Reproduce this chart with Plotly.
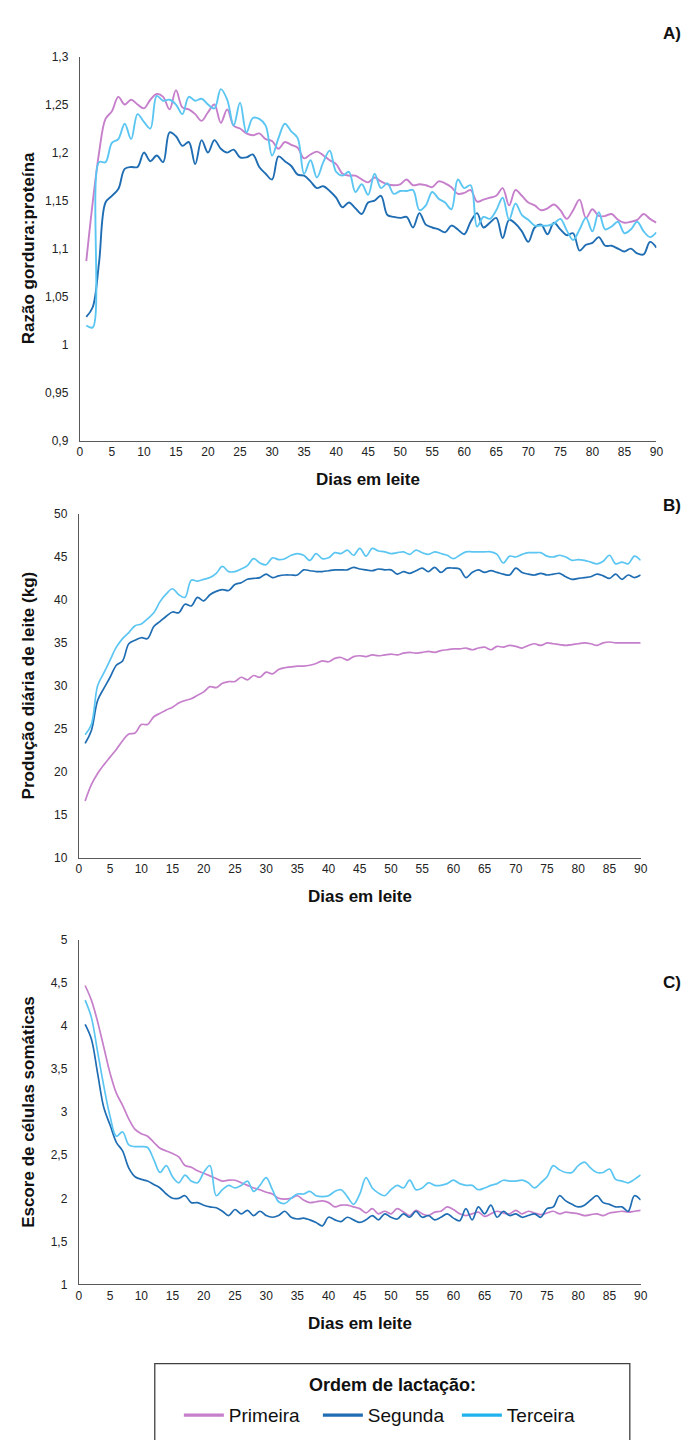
import plotly.graph_objects as go

# Days in milk
dias = list(range(1, 91))

# A) fat:protein ratio
razao_primeira = [1.087, 1.148, 1.200, 1.235, 1.243, 1.258, 1.250, 1.255, 1.250, 1.246,
                  1.255, 1.261, 1.258, 1.245, 1.265, 1.247, 1.245, 1.240, 1.233, 1.242,
                  1.250, 1.231, 1.245, 1.228, 1.225, 1.220, 1.218, 1.220, 1.214, 1.212,
                  1.204, 1.211, 1.208, 1.205, 1.194, 1.198, 1.201, 1.197, 1.192, 1.188,
                  1.178, 1.176, 1.176, 1.172, 1.169, 1.174, 1.170, 1.167, 1.166, 1.167,
                  1.172, 1.166, 1.167, 1.166, 1.164, 1.170, 1.168, 1.164, 1.157, 1.158,
                  1.161, 1.149, 1.151, 1.153, 1.155, 1.163, 1.145, 1.161, 1.155, 1.148,
                  1.145, 1.140, 1.142, 1.146, 1.140, 1.131, 1.140, 1.151, 1.132, 1.141,
                  1.134, 1.134, 1.136, 1.130, 1.127, 1.128, 1.130, 1.136, 1.131, 1.127]
razao_segunda = [1.029, 1.039, 1.086, 1.148, 1.155, 1.162, 1.183, 1.185, 1.185, 1.200,
                 1.191, 1.197, 1.190, 1.221, 1.217, 1.207, 1.211, 1.188, 1.213, 1.200,
                 1.213, 1.204, 1.200, 1.203, 1.195, 1.195, 1.198, 1.185, 1.178, 1.172,
                 1.196, 1.191, 1.186, 1.177, 1.176, 1.170, 1.163, 1.165, 1.160, 1.153,
                 1.143, 1.148, 1.142, 1.136, 1.148, 1.150, 1.155, 1.135, 1.133, 1.132,
                 1.133, 1.122, 1.137, 1.125, 1.122, 1.120, 1.117, 1.124, 1.120, 1.115,
                 1.128, 1.137, 1.122, 1.127, 1.132, 1.111, 1.130, 1.126, 1.118, 1.107,
                 1.122, 1.125, 1.115, 1.127, 1.120, 1.114, 1.116, 1.098, 1.104, 1.106,
                 1.112, 1.103, 1.103, 1.100, 1.097, 1.100, 1.095, 1.094, 1.107, 1.101]
razao_terceira = [1.020, 1.018, 1.190, 1.190, 1.210, 1.214, 1.230, 1.214, 1.240, 1.232,
                  1.225, 1.259, 1.254, 1.255, 1.250, 1.240, 1.258, 1.254, 1.256, 1.250,
                  1.246, 1.266, 1.255, 1.228, 1.252, 1.221, 1.236, 1.235, 1.228, 1.197,
                  1.215, 1.230, 1.222, 1.215, 1.178, 1.192, 1.174, 1.190, 1.202, 1.180,
                  1.176, 1.180, 1.159, 1.167, 1.156, 1.178, 1.163, 1.168, 1.157, 1.160,
                  1.160, 1.161, 1.140, 1.145, 1.159, 1.152, 1.148, 1.141, 1.172, 1.163,
                  1.166, 1.123, 1.133, 1.131, 1.140, 1.153, 1.130, 1.147, 1.135, 1.130,
                  1.124, 1.124, 1.124, 1.126, 1.131, 1.119, 1.109, 1.120, 1.132, 1.118,
                  1.138, 1.120, 1.123, 1.128, 1.116, 1.120, 1.128, 1.118, 1.112, 1.117]

# B) daily milk yield (kg)
leite_primeira = [16.6, 18.5, 19.8, 20.8, 21.7, 22.6, 23.6, 24.4, 24.5, 25.5,
                  25.5, 26.4, 26.8, 27.2, 27.5, 28.0, 28.3, 28.5, 28.9, 29.3,
                  29.9, 29.8, 30.3, 30.5, 30.5, 31.0, 30.7, 31.2, 31.0, 31.6,
                  31.4, 31.9, 32.1, 32.2, 32.3, 32.3, 32.4, 32.6, 32.9, 32.8,
                  33.2, 33.3, 33.0, 33.4, 33.5, 33.4, 33.6, 33.5, 33.6, 33.7,
                  33.6, 33.8, 33.9, 33.8, 33.9, 34.0, 33.9, 34.1, 34.2, 34.3,
                  34.3, 34.4, 34.2, 34.4, 34.5, 34.2, 34.6, 34.5, 34.7, 34.6,
                  34.4, 34.7, 34.9, 34.7, 35.0, 34.9, 34.8, 34.7, 34.8, 34.9,
                  35.0, 34.9, 34.7, 35.0, 35.1, 35.0, 35.0, 35.0, 35.0, 35.0]
leite_segunda = [23.3, 24.8, 28.3, 29.7, 31.0, 32.4, 32.9, 34.9, 35.3, 35.6,
                 35.5, 36.9, 37.5, 38.1, 38.6, 38.5, 39.5, 39.3, 40.3, 39.9,
                 40.6, 41.0, 41.2, 41.1, 41.8, 42.0, 42.4, 42.5, 42.6, 43.0,
                 42.6, 42.8, 42.9, 42.9, 42.9, 43.5, 43.4, 43.3, 43.3, 43.4,
                 43.5, 43.5, 43.5, 43.8, 43.6, 43.5, 43.4, 43.6, 43.5, 43.5,
                 43.0, 43.3, 43.1, 43.4, 43.7, 43.3, 43.8, 43.2, 43.7, 43.7,
                 43.6, 42.6, 43.2, 43.5, 43.2, 43.4, 43.2, 43.0, 42.9, 43.7,
                 43.2, 43.0, 42.9, 43.1, 42.9, 43.0, 43.1, 42.7, 42.4, 42.5,
                 42.6, 42.7, 43.0, 42.8, 42.5, 43.0, 42.4, 42.9, 42.6, 42.9]
leite_terceira = [24.3, 25.5, 30.0, 31.5, 33.0, 34.5, 35.5, 36.2, 37.0, 37.2,
                  37.8, 38.5, 39.8, 40.7, 41.3, 40.6, 40.3, 42.3, 42.2, 42.4,
                  42.6, 43.1, 43.9, 43.3, 43.3, 43.6, 44.0, 44.8, 44.3, 44.1,
                  44.9, 44.7, 44.8, 45.2, 45.4, 45.2, 44.6, 45.4, 44.8, 44.9,
                  45.5, 45.4, 45.8, 45.2, 46.0, 45.1, 46.0, 45.7, 45.6, 45.4,
                  45.5, 45.6, 45.3, 45.8, 45.5, 45.3, 45.6, 45.4, 45.2, 44.8,
                  45.2, 45.6, 45.6, 45.6, 45.6, 45.6, 45.3, 44.3, 45.1, 45.0,
                  45.3, 45.5, 45.5, 45.5, 45.1, 45.0, 45.2, 45.0, 44.6, 44.7,
                  44.6, 44.4, 44.2, 44.5, 45.2, 44.2, 44.4, 44.2, 45.1, 44.6]

# C) somatic cell score
ecs_primeira = [4.47, 4.30, 4.05, 3.75, 3.45, 3.22, 3.08, 2.92, 2.80, 2.75,
                2.72, 2.65, 2.58, 2.55, 2.52, 2.48, 2.38, 2.36, 2.32, 2.29,
                2.26, 2.23, 2.20, 2.21, 2.21, 2.18, 2.15, 2.12, 2.10, 2.07,
                2.05, 2.00, 1.99, 2.00, 2.03, 1.98, 1.95, 1.96, 1.97, 1.95,
                1.90, 1.92, 1.92, 1.90, 1.88, 1.83, 1.88, 1.82, 1.85, 1.82,
                1.88, 1.84, 1.80, 1.86, 1.82, 1.80, 1.84, 1.85, 1.90, 1.87,
                1.82, 1.80, 1.82, 1.84, 1.79, 1.82, 1.85, 1.83, 1.82, 1.86,
                1.82, 1.85, 1.83, 1.81, 1.83, 1.85, 1.82, 1.84, 1.83, 1.82,
                1.80, 1.81, 1.82, 1.80, 1.83, 1.84, 1.85, 1.84, 1.85, 1.86]
ecs_segunda = [4.02, 3.85, 3.45, 3.05, 2.85, 2.65, 2.55, 2.35, 2.25, 2.22,
               2.20, 2.16, 2.12, 2.05, 2.00, 2.00, 2.03, 1.95, 1.95, 1.92,
               1.90, 1.89, 1.85, 1.80, 1.87, 1.82, 1.86, 1.80, 1.85, 1.80,
               1.78, 1.80, 1.85, 1.78, 1.76, 1.77, 1.75, 1.72, 1.68, 1.78,
               1.75, 1.73, 1.78, 1.75, 1.72, 1.75, 1.80, 1.75, 1.82, 1.78,
               1.76, 1.82, 1.78, 1.85, 1.78, 1.80, 1.75, 1.78, 1.82, 1.77,
               1.74, 1.88, 1.75, 1.90, 1.82, 1.92, 1.78, 1.85, 1.80, 1.82,
               1.78, 1.80, 1.82, 1.78, 1.88, 1.90, 2.03, 1.97, 1.93, 1.90,
               1.92, 1.98, 2.03, 1.95, 1.93, 1.90, 1.90, 1.85, 2.03, 1.98]
ecs_terceira = [4.30, 4.10, 3.70, 3.30, 2.95, 2.72, 2.77, 2.62, 2.60, 2.60,
                2.59, 2.45, 2.30, 2.38, 2.25, 2.18, 2.27, 2.20, 2.18, 2.30,
                2.38, 2.03, 2.10, 2.15, 2.12, 2.15, 2.20, 2.08, 2.15, 2.24,
                2.10, 1.96, 1.94, 2.00, 2.05, 2.05, 2.08, 2.03, 2.02, 2.03,
                2.08, 2.10, 2.02, 1.93, 2.05, 2.24, 2.12, 2.06, 2.03, 2.10,
                2.15, 2.12, 2.21, 2.10, 2.12, 2.18, 2.15, 2.15, 2.17, 2.21,
                2.17, 2.15, 2.15, 2.10, 2.12, 2.15, 2.17, 2.21, 2.20, 2.20,
                2.21, 2.18, 2.12, 2.18, 2.25, 2.38, 2.33, 2.30, 2.30, 2.38,
                2.42, 2.35, 2.30, 2.30, 2.34, 2.22, 2.20, 2.18, 2.22, 2.27]

ordens = ["Primeira", "Segunda", "Terceira"]
cores = ["#C67FCB", "#1F6DB3", "#5CC6F2"]
cores_legenda = ["#C67FCB", "#1F6DB3", "#1FB2EE"]

W, H = 693, 1440
FONT = "Liberation Sans, Arial, sans-serif"


def px_x(p):
    return p / W


def px_y(p):
    return 1 - p / H


fig = go.Figure()

paineis = [
    (["x", "y"], [razao_primeira, razao_segunda, razao_terceira], 1.9),
    (["x2", "y2"], [leite_primeira, leite_segunda, leite_terceira], 1.7),
    (["x3", "y3"], [ecs_primeira, ecs_segunda, ecs_terceira], 1.7),
]
for eixos, series, lw in paineis:
    for nome, cor, valores in zip(ordens, cores, series):
        fig.add_trace(go.Scatter(
            x=dias, y=valores, mode="lines", name=nome,
            line=dict(color=cor, width=lw, shape="spline", smoothing=1.0),
            xaxis=eixos[0], yaxis=eixos[1],
            showlegend=False, hoverinfo="skip",
        ))

# legend entries (thicker key lines)
for nome, cor in zip(ordens, cores_legenda):
    fig.add_trace(go.Scatter(
        x=[None], y=[None], mode="lines", name=nome,
        line=dict(color=cor, width=3.2), xaxis="x3", yaxis="y3",
        showlegend=True, hoverinfo="skip",
    ))

eixo_x = dict(range=[0, 90], dtick=5, tick0=0, showline=True, linecolor="#595959",
              linewidth=1.2, ticks="", showgrid=False, zeroline=False,
              tickfont=dict(family=FONT, size=12, color="#222"), fixedrange=True)
eixo_y = dict(showline=True, linecolor="#595959", linewidth=1.2, ticks="",
              showgrid=False, zeroline=False, ticklabelstandoff=8,
              tickfont=dict(family=FONT, size=12, color="#222"), fixedrange=True)

# plot areas (pixel boxes: left, right, top, bottom)
caixas = {
    "1": (78, 663, 50, 438),
    "2": (77, 647, 512, 859),
    "3": (77, 647, 942, 1290),
}
faixas_y = {"1": ([0.9, 1.3], 0.05), "2": ([10, 50], 5), "3": ([1, 5], 0.5)}

layout = dict(
    width=W, height=H, margin=dict(l=0, r=0, t=0, b=0),
    paper_bgcolor="white", plot_bgcolor="white",
    separators=",.",
    font=dict(family=FONT, color="#111"),
)
for k, (l, r, t, b) in caixas.items():
    sx = "" if k == "1" else k
    ax = dict(eixo_x, domain=[px_x(l), px_x(r)], anchor="y" + sx)
    ay = dict(eixo_y, domain=[px_y(b), px_y(t)], anchor="x" + sx,
              range=faixas_y[k][0], dtick=faixas_y[k][1], tick0=faixas_y[k][0][0])
    layout["xaxis" + sx] = ax
    layout["yaxis" + sx] = ay

fig.update_layout(**layout)


def rotulo(texto, x, y, size=17, angle=0, xanchor="center"):
    return dict(text=texto, x=px_x(x), y=px_y(y), xref="paper", yref="paper",
                xanchor=xanchor, yanchor="middle", showarrow=False, textangle=angle,
                font=dict(family=FONT, size=size, color="#111"))


anot = []
titulos_y = ["Razão gordura:proteína", "Produção diária de leite (kg)",
             "Escore de células somáticas"]
for (k, (l, r, t, b)), ty in zip(caixas.items(), titulos_y):
    anot.append(rotulo("<b>Dias em leite</b>", (l + r) / 2, b + 39))
    anot.append(rotulo("<b>%s</b>" % ty, 26, (t + b) / 2, angle=-90))

for letra, yy in [("A)", 27), ("B)", 503), ("C)", 985)]:
    anot.append(rotulo("<b>%s</b>" % letra, 690, yy, xanchor="right"))

anot.append(rotulo("<b>Ordem de lactação:</b>", 395, 1392, size=18))

fig.update_layout(
    annotations=anot,
    shapes=[dict(type="rect", xref="paper", yref="paper",
                 x0=px_x(154), x1=px_x(636), y0=px_y(1460), y1=px_y(1370),
                 line=dict(color="#404040", width=1.3), fillcolor="rgba(0,0,0,0)")],
    legend=dict(orientation="h", x=px_x(390), xanchor="center", y=px_y(1422),
                yanchor="middle", bgcolor="rgba(0,0,0,0)",
                font=dict(family=FONT, size=19, color="#111"),
                itemwidth=40, entrywidth=84, entrywidthmode="pixels"),
)

fig.write_html("out.html")
